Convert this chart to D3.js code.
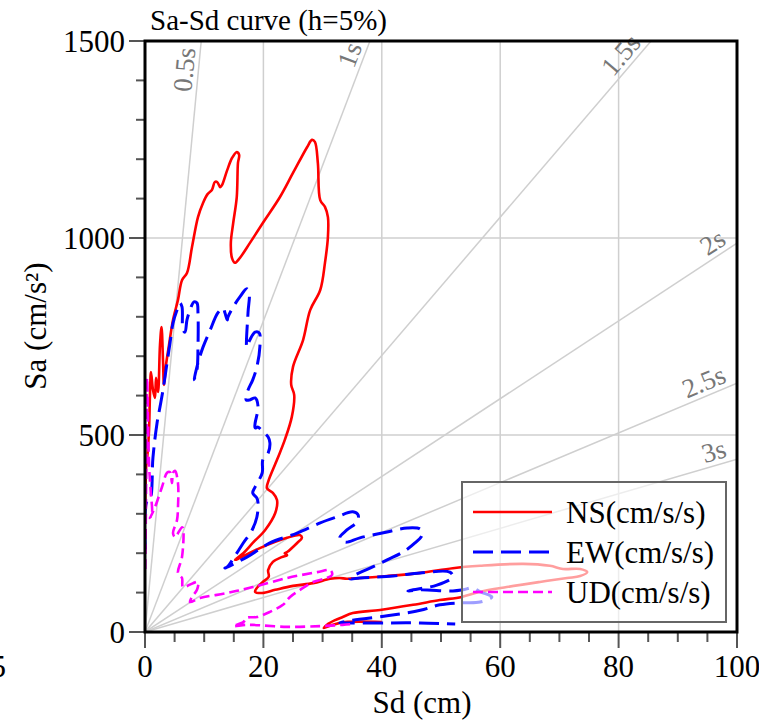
<!DOCTYPE html>
<html><head><meta charset="utf-8">
<script src="https://cdn.jsdelivr.net/npm/d3@7"></script>
<style>
body{margin:0;background:#fff}
svg{display:block}
svg, svg text, text, tspan {font-family:"Liberation Serif" !important;}
</style>
</head><body>
<svg id="c" width="759" height="721" style="font-family:'Liberation Serif'"></svg>
<script>
const title = "Sa-Sd curve (h=5%)";
const xLabel = "Sd (cm)";
const yLabel = "Sa (cm/s²)";
const xTicks = [0, 20, 40, 60, 80, 100];
const yTicks = [0, 500, 1000, 1500];
const periods = [0.5, 1, 1.5, 2, 2.5, 3];
const periodLabels = ["0.5s", "1s", "1.5s", "2s", "2.5s", "3s"];
const seriesNames = ["NS(cm/s/s)", "EW(cm/s/s)", "UD(cm/s/s)"];

const nsData = [[0.05,330],[0.2,420],[0.34,437],[0.68,513],[0.84,602],[1.01,660],[1.35,614],[1.69,594],[1.86,645],[2.2,609],[2.53,728],[2.79,774],[3.04,690],[3.21,627],[3.55,678],[4.05,728],[4.73,792],[5.57,843],[6.25,893],[7.09,911],[7.94,977],[8.95,1053],[9.8,1089],[10.6,1112],[11.3,1122],[11.8,1142],[12.2,1142],[12.7,1129],[13.0,1134],[13.9,1173],[14.7,1203],[15.5,1218],[15.9,1211],[15.7,1190],[15.5,1104],[14.9,1038],[14.5,987],[14.7,949],[15.2,937],[16.0,949],[17.7,987],[19.9,1038],[22.8,1104],[25.0,1165],[27.4,1231],[28.2,1249],[28.7,1244],[29.2,1190],[29.6,1096],[30.4,1079],[30.9,1053],[30.9,1003],[30.4,937],[29.6,868],[27.9,817],[26.7,741],[25.0,673],[24.7,627],[25.2,602],[24.8,546],[23.6,487],[22.3,437],[20.8,381],[20.6,365],[21.6,353],[22.3,335],[22.0,302],[20.3,259],[18.2,226],[16.6,200],[15.2,183],[19.4,213],[24.0,239],[26.2,246],[26.5,239],[25.7,226],[24.0,203],[23.6,200],[24.0,195],[23.1,190],[21.6,178],[20.8,157],[20.9,140],[19.9,127],[18.9,112],[18.6,102],[19.8,99],[22.0,107],[25.0,117],[28.4,124],[31.3,135],[32.9,137],[34.1,135],[36.3,137],[40.9,142],[46.5,150],[52.0,162],[56.6,168],[63.9,173],[68.4,168],[70.6,160],[73.5,160],[74.7,152],[73.5,142],[71.3,137],[66.7,127],[61.1,114],[56.6,102],[53.5,89],[49.8,81],[45.3,69],[39.7,56],[35.1,48],[33.4,38],[32.1,30],[30.7,18],[30.2,10],[31.6,18],[33.8,25],[40.0,25]];

const ewData = [[0.05,210],[0.3,330],[0.84,335],[1.35,444],[2.03,530],[2.53,571],[3.04,614],[3.72,683],[4.22,733],[4.73,784],[5.41,817],[5.91,835],[6.25,825],[6.42,766],[6.76,761],[7.09,792],[7.6,817],[8.28,838],[8.78,835],[8.95,810],[8.95,723],[8.78,665],[8.28,640],[8.95,683],[9.8,723],[11.0,766],[12.3,810],[13.2,822],[13.5,810],[13.9,792],[14.0,799],[14.9,825],[16.0,850],[17.2,871],[17.6,860],[17.4,810],[17.2,723],[17.7,741],[18.6,761],[19.3,759],[19.4,723],[18.9,673],[18.2,640],[17.4,614],[17.1,589],[17.7,589],[18.6,594],[19.1,571],[18.6,530],[18.6,518],[19.1,520],[19.9,508],[20.8,495],[21.1,480],[20.8,454],[19.9,437],[19.8,404],[18.6,368],[18.2,353],[18.9,340],[19.1,327],[18.9,292],[18.1,259],[16.6,226],[15.5,200],[13.9,165],[13.5,162],[17.2,190],[21.1,226],[25.7,251],[29.6,277],[32.4,292],[35.1,305],[36.0,297],[35.8,279],[34.1,259],[32.9,239],[33.8,228],[36.3,239],[40.9,254],[44.3,264],[46.5,261],[46.8,246],[45.6,226],[43.6,203],[40.9,183],[38.0,162],[35.1,142],[34.6,135],[36.3,137],[41.9,142],[46.5,150],[51.5,152],[52.0,140],[49.3,119],[45.3,107],[44.4,104],[46.5,107],[52.0,104],[53.7,107],[55.4,112],[56.6,102],[58.6,89],[56.6,76],[53.2,74],[49.8,69],[46.5,55],[40.9,41],[35.1,30],[32.9,23],[34.6,23],[40.9,23],[46.5,23],[52.4,20]];

const udData = [[0.05,160],[0.15,300],[0.25,480],[0.35,645],[0.5,540],[0.7,420],[1.0,350],[1.18,302],[0.84,289],[1.69,317],[2.87,368],[3.72,404],[4.22,406],[4.56,378],[4.73,404],[5.07,409],[5.57,378],[5.57,317],[5.41,284],[4.73,251],[5.07,241],[6.25,266],[6.42,264],[6.25,190],[5.57,150],[6.25,137],[6.42,114],[8.11,124],[8.95,127],[8.78,107],[7.94,89],[7.6,76],[9.29,86],[13.9,99],[18.2,114],[24.0,137],[29.1,152],[31.3,157],[31.6,145],[30.7,137],[28.4,127],[26.2,107],[24.5,89],[23.3,69],[21.1,51],[18.9,38],[17.2,36],[16.6,25],[14.9,15],[16.9,18],[18.2,18],[24.0,13],[29.6,15],[33.4,18],[35.0,20]];

const series = [
  {name: seriesNames[0], data: nsData, color: "#ff0000", dash: null, width: 2.6},
  {name: seriesNames[1], data: ewData, color: "#0000ff", dash: "20,8", width: 3},
  {name: seriesNames[2], data: udData, color: "#ff00ff", dash: "10,5", width: 2.6}
];

const FONT = "Liberation Serif";
const svg = d3.select("#c");
const L = 145, R = 737, T = 41, B = 632;
const x = d3.scaleLinear().domain([0, 100]).range([L, R]);
const y = d3.scaleLinear().domain([0, 1500]).range([B, T]);

svg.append("defs").append("clipPath").attr("id", "clip")
  .append("rect").attr("x", L).attr("y", T).attr("width", R - L).attr("height", B - T);

const grid = svg.append("g").attr("stroke", "#cfcfcf").attr("stroke-width", 1.5);
xTicks.slice(1, -1).forEach(v => grid.append("line").attr("x1", x(v)).attr("x2", x(v)).attr("y1", T).attr("y2", B));
yTicks.slice(1, -1).forEach(v => grid.append("line").attr("y1", y(v)).attr("y2", y(v)).attr("x1", L).attr("x2", R));

const pg = svg.append("g").attr("clip-path", "url(#clip)");
const labelG = svg.append("g");
periods.forEach((p, i) => {
  const w2 = Math.pow(2 * Math.PI / p, 2);
  let sdEnd = 100, saEnd = w2 * 100;
  if (saEnd > 1500) { saEnd = 1500; sdEnd = 1500 / w2; }
  pg.append("line").attr("x1", x(0)).attr("y1", y(0)).attr("x2", x(sdEnd)).attr("y2", y(saEnd))
    .attr("stroke", "#cfcfcf").attr("stroke-width", 1.5);
  const ex = x(sdEnd), ey = y(saEnd);
  const dx = ex - x(0), dy = ey - y(0);
  const len = Math.hypot(dx, dy);
  const back = 8;
  const px = ex - dx / len * back, py = ey - dy / len * back;
  const ang = Math.atan2(dy, dx) * 180 / Math.PI;
  labelG.append("text").attr("transform", `translate(${px},${py}) rotate(${ang})`)
    .attr("x", 0).attr("y", -5).attr("text-anchor", "end").attr("font-family", FONT).style("font-family", FONT)
    .attr("font-size", 27).attr("fill", "#777").text(periodLabels[i]);
});

const line = d3.line().x(d => x(d[0])).y(d => y(d[1])).curve(d3.curveCatmullRom.alpha(0.5));
const cg = svg.append("g").attr("clip-path", "url(#clip)");
series.forEach(s => {
  cg.append("path").datum(s.data).attr("d", line).attr("fill", "none")
    .attr("stroke", s.color).attr("stroke-width", s.width)
    .attr("stroke-dasharray", s.dash).attr("stroke-linejoin", "round");
});

const tk = svg.append("g").attr("stroke", "#555").attr("stroke-width", 2);
d3.range(0, 1501, 100).forEach(v => {
  const major = v % 500 === 0;
  tk.append("line").attr("x1", L - (major ? 16 : 9)).attr("x2", L).attr("y1", y(v)).attr("y2", y(v));
});
d3.range(0, 101, 5).forEach(v => {
  const major = v % 20 === 0;
  tk.append("line").attr("y1", B).attr("y2", B + (major ? 16 : 10)).attr("x1", x(v)).attr("x2", x(v));
});

svg.append("rect").attr("x", L).attr("y", T).attr("width", R - L).attr("height", B - T)
  .attr("fill", "none").attr("stroke", "#000").attr("stroke-width", 3);

function txt(sel) { return sel.attr("font-family", FONT).style("font-family", FONT); }

txt(svg.append("g").selectAll("text").data(yTicks).join("text"))
  .attr("x", 125).attr("y", d => y(d)).attr("dy", "0.35em").attr("text-anchor", "end")
  .attr("font-size", 31).text(d => d);
txt(svg.append("g").selectAll("text").data(xTicks).join("text"))
  .attr("x", d => x(d)).attr("y", 677).attr("text-anchor", "middle")
  .attr("font-size", 31).text(d => d);
txt(svg.append("text")).attr("x", 6).attr("y", 677).attr("text-anchor", "end").attr("font-size", 31).text("5");

txt(svg.append("text")).attr("x", 150).attr("y", 30).attr("font-size", 29).text(title);
txt(svg.append("text")).attr("x", 422).attr("y", 713).attr("text-anchor", "middle").attr("font-size", 31).text(xLabel);
txt(svg.append("text")).attr("transform", "translate(46,326) rotate(-90)").attr("text-anchor", "middle")
  .attr("font-size", 31).text(yLabel);

const lg = svg.append("g");
lg.append("rect").attr("x", 462).attr("y", 482).attr("width", 264).attr("height", 140)
  .attr("fill", "#fff").attr("fill-opacity", 0.62).attr("stroke", "#666").attr("stroke-width", 2);
series.forEach((s, i) => {
  const yy = 512 + i * 40;
  lg.append("line").attr("x1", 473).attr("x2", 552).attr("y1", yy).attr("y2", yy)
    .attr("stroke", s.color).attr("stroke-width", s.width).attr("stroke-dasharray", s.dash);
  txt(lg.append("text")).attr("x", 566).attr("y", yy).attr("dy", "0.35em")
    .attr("font-size", 31).text(s.name);
});
</script>
</body></html>
